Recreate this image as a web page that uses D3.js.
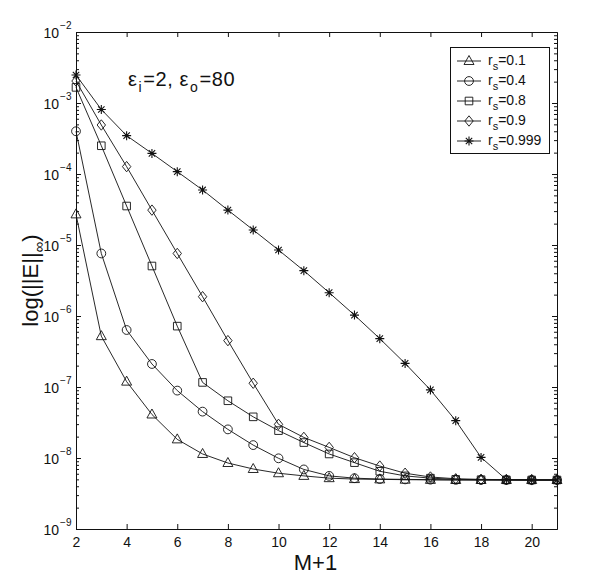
<!DOCTYPE html>
<html>
<head>
<meta charset="utf-8">
<script src="https://cdn.jsdelivr.net/npm/d3@7"></script>
<style>
  html, body { margin: 0; padding: 0; background: #fff; }
  svg { display: block; font-family: "Liberation Sans", Arial, Helvetica, sans-serif; }
</style>
</head>
<body>
<svg id="chart" width="601" height="588"></svg>
<script>
// ---- data ----
const xValues = [2,3,4,5,6,7,8,9,10,11,12,13,14,15,16,17,18,19,20,21];
const rs01  = [2.7e-5, 5.2e-7, 1.19e-7, 4.1e-8, 1.83e-8, 1.14e-8, 8.5e-9, 7.0e-9, 6.1e-9, 5.6e-9, 5.2e-9, 5.05e-9, 5.0e-9, 4.95e-9, 4.92e-9, 4.9e-9, 4.9e-9, 4.9e-9, 4.9e-9, 4.9e-9];
const rs04  = [4.0e-4, 7.6e-6, 6.35e-7, 2.11e-7, 8.9e-8, 4.5e-8, 2.53e-8, 1.52e-8, 9.9e-9, 6.9e-9, 5.6e-9, 5.2e-9, 5.05e-9, 5.0e-9, 4.95e-9, 4.92e-9, 4.9e-9, 4.9e-9, 4.9e-9, 4.9e-9];
const rs08  = [1.66e-3, 2.5e-4, 3.54e-5, 5.06e-6, 7.2e-7, 1.16e-7, 6.4e-8, 3.8e-8, 2.43e-8, 1.65e-8, 1.14e-8, 8.6e-9, 6.5e-9, 5.6e-9, 5.2e-9, 5.0e-9, 4.95e-9, 4.92e-9, 4.9e-9, 4.9e-9];
const rs09  = [2.04e-3, 4.9e-4, 1.27e-4, 3.1e-5, 7.6e-6, 1.87e-6, 4.5e-7, 1.13e-7, 2.98e-8, 1.95e-8, 1.41e-8, 1.01e-8, 7.7e-9, 6.1e-9, 5.4e-9, 5.1e-9, 5.0e-9, 4.95e-9, 4.92e-9, 4.9e-9];
const rs0999 = [2.48e-3, 8.1e-4, 3.47e-4, 1.95e-4, 1.08e-4, 5.96e-5, 3.1e-5, 1.63e-5, 8.5e-6, 4.35e-6, 2.13e-6, 1.03e-6, 4.8e-7, 2.15e-7, 9.1e-8, 3.36e-8, 1.02e-8, 4.95e-9, 4.9e-9, 4.9e-9];
const seriesNames = ["0.1", "0.4", "0.8", "0.9", "0.999"];
const seriesMarkers = ["triangle", "circle", "square", "diamond", "star"];
const xTickValues = [2,4,6,8,10,12,14,16,18,20];
const yTickExponents = [-9,-8,-7,-6,-5,-4,-3,-2];
const xLabel = "M+1";

const series = [rs01, rs04, rs08, rs09, rs0999].map((v, i) => ({
  name: seriesNames[i], marker: seriesMarkers[i],
  points: v.map((y, j) => ({x: xValues[j], y}))
}));

// ---- layout ----
const L = 76, R = 557, T = 32, B = 529;
const svg = d3.select("#chart");
const x = d3.scaleLinear().domain([2, 21]).range([L, R]);
const y = d3.scaleLog().domain([1e-9, 1e-2]).range([B, T]);

const ink = "#111";

// marker shapes
const markerPath = {
  triangle: "M0,-5.5L5,3.5L-5,3.5Z",
  circle: d3.symbol().type(d3.symbolCircle).size(Math.PI * 4.4 * 4.4)(),
  square: "M-3.8,-3.8H3.8V3.8H-3.8Z",
  diamond: "M0,-5.2L4.2,0L0,5.2L-4.2,0Z",
  star: "M0,-4.5V4.5M-4.5,0H4.5M-3.2,-3.2L3.2,3.2M-3.2,3.2L3.2,-3.2"
};

// ---- axes ----
const minorVals = [];
for (let e = -9; e < -2; e++) for (let k = 2; k <= 9; k++) minorVals.push(k * Math.pow(10, e));
const majorVals = yTickExponents.map(e => Math.pow(10, e));

function styleAxis(g) {
  g.selectAll("path.domain").attr("stroke", ink).attr("stroke-width", 1);
  g.selectAll(".tick line").attr("stroke", ink).attr("stroke-width", 1);
}

// bottom
const gB = svg.append("g").attr("transform", `translate(0,${B})`)
  .call(d3.axisBottom(x).tickValues(xTickValues).tickSizeInner(-5).tickSizeOuter(0).tickPadding(8));
styleAxis(gB);
gB.selectAll("text").attr("font-size", 14).attr("fill", ink).attr("font-family", "Liberation Sans, Arial, sans-serif");
// top
const gT = svg.append("g").attr("transform", `translate(0,${T})`)
  .call(d3.axisTop(x).tickValues(xTickValues).tickSizeInner(-5).tickSizeOuter(0).tickFormat(""));
styleAxis(gT);
// left major
const gL = svg.append("g").attr("transform", `translate(${L},0)`)
  .call(d3.axisLeft(y).tickValues(majorVals).tickSizeInner(-5).tickSizeOuter(0).tickPadding(4.5).tickFormat(""));
styleAxis(gL);
gL.selectAll(".tick").each(function(d) {
  const t = d3.select(this).select("text");
  t.text(null).attr("font-size", 14).attr("fill", ink).attr("dy", "0.37em")
    .attr("font-family", "Liberation Sans, Arial, sans-serif");
  t.append("tspan").text("10");
  t.append("tspan").attr("font-size", 10).attr("dy", "-0.85em").attr("dx", "1").text("\u2212" + Math.round(-Math.log10(d)));
});
// left minor
const gLm = svg.append("g").attr("transform", `translate(${L},0)`)
  .call(d3.axisLeft(y).tickValues(minorVals).tickSizeInner(-3).tickSizeOuter(0).tickFormat(""));
styleAxis(gLm);
// right major + minor
const gR = svg.append("g").attr("transform", `translate(${R},0)`)
  .call(d3.axisRight(y).tickValues(majorVals).tickSizeInner(-5).tickSizeOuter(0).tickFormat(""));
styleAxis(gR);
const gRm = svg.append("g").attr("transform", `translate(${R},0)`)
  .call(d3.axisRight(y).tickValues(minorVals).tickSizeInner(-3).tickSizeOuter(0).tickFormat(""));
styleAxis(gRm);

// ---- series ----
const line = d3.line().x(d => x(d.x)).y(d => y(d.y));
series.forEach(s => {
  svg.append("path").datum(s.points)
    .attr("d", line).attr("fill", "none").attr("stroke", ink).attr("stroke-width", 0.9);
  svg.append("g").selectAll("path").data(s.points).join("path")
    .attr("transform", d => `translate(${x(d.x)},${y(d.y)})`)
    .attr("d", markerPath[s.marker])
    .attr("fill", "none").attr("stroke", ink).attr("stroke-width", s.marker === "star" ? 1.1 : 0.9);
});

// ---- annotation ----
const ann = svg.append("text").attr("x", 128).attr("y", 86).attr("font-size", 20).attr("fill", ink)
  .attr("letter-spacing", 0.6);
ann.append("tspan").text("\u03b5");
ann.append("tspan").attr("font-size", 14).attr("dy", 6).attr("dx", 1).text("i");
ann.append("tspan").attr("dy", -6).attr("dx", 1).text("=2, \u03b5");
ann.append("tspan").attr("font-size", 14).attr("dy", 6).attr("dx", 1).text("o");
ann.append("tspan").attr("dy", -6).attr("dx", 1).text("=80");

// ---- legend ----
const leg = svg.append("g");
leg.append("rect").attr("x", 450.5).attr("y", 47.5).attr("width", 99).attr("height", 106)
  .attr("fill", "#fff").attr("stroke", ink).attr("stroke-width", 1);
series.forEach((s, i) => {
  const cy = 61 + i * 20;
  leg.append("line").attr("x1", 457).attr("x2", 481).attr("y1", cy).attr("y2", cy)
    .attr("stroke", ink).attr("stroke-width", 0.9);
  leg.append("path").attr("transform", `translate(469,${cy})`).attr("d", markerPath[s.marker])
    .attr("fill", "none").attr("stroke", ink).attr("stroke-width", s.marker === "star" ? 1.1 : 0.9);
  const t = leg.append("text").attr("x", 488).attr("y", cy + 3.5).attr("font-size", 14).attr("fill", ink);
  t.append("tspan").text("r");
  t.append("tspan").attr("font-size", 11).attr("dy", 5).text("s");
  t.append("tspan").attr("dy", -5).text("=" + s.name);
});

// ---- axis labels ----
svg.append("text").attr("x", (L + R) / 2 - 1).attr("y", 570).attr("text-anchor", "middle")
  .attr("font-size", 22).attr("fill", ink).text(xLabel);
const yl = svg.append("text").attr("transform", `translate(38,${(T + B) / 2})rotate(-90)`)
  .attr("text-anchor", "middle").attr("font-size", 22).attr("fill", ink);
yl.append("tspan").text("log(||E||");
yl.append("tspan").attr("font-size", 15).attr("dy", 6).text("\u221e");
yl.append("tspan").attr("dy", -6).text(")");
</script>
</body>
</html>
